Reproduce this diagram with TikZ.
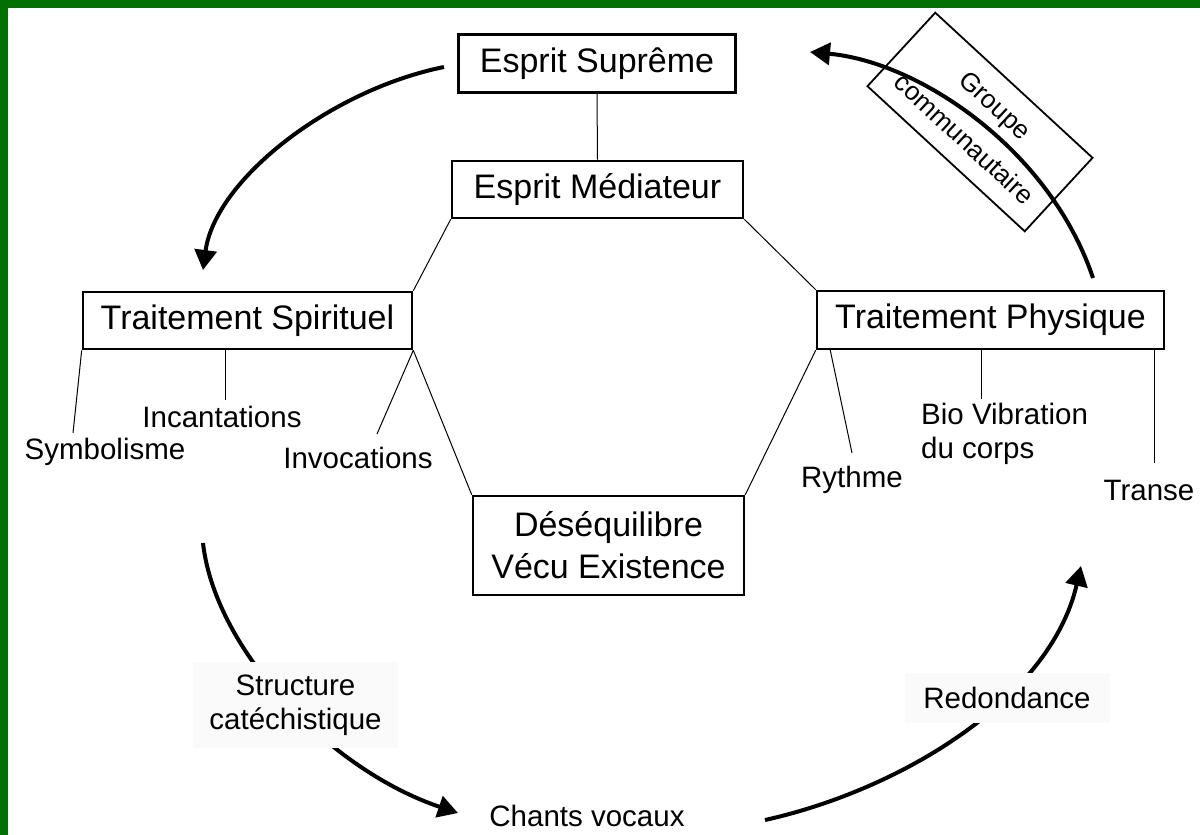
\documentclass[tikz,border=0pt]{standalone}
\usepackage{fontspec}
\setmainfont{Liberation Sans}
\usetikzlibrary{arrows.meta}
\definecolor{bordergreen}{RGB}{0,112,0}
\definecolor{labfill}{RGB}{250,250,250}
\begin{document}
\begin{tikzpicture}[x=1pt,y=-1pt,
  box/.style={draw, line width=2.6pt, inner sep=0pt, align=center, font=\fontsize{34}{42}\selectfont},
  lab/.style={inner sep=0pt, align=center, font=\fontsize{29.5}{34}\selectfont},
  thinline/.style={line width=1pt},
  flow/.style={line width=4pt, -{Triangle[length=20pt,width=22pt]}},
]
\useasboundingbox (0,0) rectangle (1200,835);
\fill[white] (0,0) rectangle (1200,835);
\fill[bordergreen] (0,0) rectangle (1200,8);
\fill[bordergreen] (0,0) rectangle (8,835);

% main boxes
\node[box, minimum width=277pt, minimum height=58pt] (sup) at (597,63.5) {Esprit Suprême};
\node[box, minimum width=291pt, minimum height=57pt] (med) at (597.5,189.5) {Esprit Médiateur};
\node[box, minimum width=329pt, minimum height=57pt] (spi) at (247.5,320.5) {Traitement Spirituel};
\node[box, minimum width=347pt, minimum height=58pt] (phy) at (990.5,320) {Traitement Physique};
\node[box, minimum width=271pt, minimum height=99pt] (des) at (608.5,545.5) {Déséquilibre\\Vécu Existence};

% hexagon connectors
\draw[thinline] (sup.south) -- (med.north);
\draw[thinline] (med.south west) -- (spi.north east);
\draw[thinline] (med.south east) -- (phy.north west);
\draw[thinline] (spi.south east) -- (des.north west);
\draw[thinline] (phy.south west) -- (des.north east);

% sub labels
\node[lab] (sym) at (105,452) {Symbolisme};
\node[lab] (inc) at (222,417) {Incantations};
\node[lab] (inv) at (358,458) {Invocations};
\node[lab] (ryt) at (852,480) {Rythme};
\node[lab, align=left, anchor=west] (bio) at (921,434) {Bio Vibration\\du corps};
\node[lab] (tra) at (1149,490) {Transe};

\coordinate (symend) at (73,433);
\coordinate (incstart) at (225,349);
\coordinate (incend) at (225,400);
\coordinate (invend) at (377,434);
\coordinate (rytstart) at (830,349);
\coordinate (rytend) at (852,453);
\coordinate (biostart) at (981,349);
\coordinate (bioend) at (981,399);
\coordinate (trastart) at (1154,349);
\coordinate (traend) at (1154,463);

\draw[thinline] (spi.south west) -- (symend);
\draw[thinline] (incstart) -- (incend);
\draw[thinline] (spi.south east) -- (invend);
\draw[thinline] (rytstart) -- (rytend);
\draw[thinline] (biostart) -- (bioend);
\draw[thinline] (trastart) -- (traend);

% cycle arrows
\coordinate (a1s) at (444,67);
\coordinate (a1e) at (203,270);
\draw[flow] (a1s) .. controls (330,90) and (215,180) .. (a1e);

\coordinate (a2s) at (203,543);
\coordinate (a2e) at (458,813);
\draw[flow] (a2s) .. controls (215,650) and (330,770) .. (a2e);

\coordinate (a3s) at (765,820);
\coordinate (a3e) at (1081,566);
\draw[flow] (a3s) .. controls (900,790) and (1050,700) .. (a3e);

% labels on arrows
\node[lab, fill=labfill, minimum width=205pt, minimum height=86pt] (str) at (295.5,705) {Structure\\catéchistique};
\node[lab, fill=labfill, minimum width=205pt, minimum height=50pt] (red) at (1007,698) {Redondance};
\node[lab] (cha) at (587,816) {Chants vocaux};

% community group
\node[draw, line width=1.8pt, rotate=-42.7, minimum width=214pt, minimum height=100pt, inner sep=0pt, align=center, font=\fontsize{26}{46}\selectfont] (grp) at (980,122) {Groupe\\communautaire};

\coordinate (a4s) at (1093,278);
\coordinate (a4e) at (810,52);
\draw[flow] (a4s) .. controls (1050,150) and (920,62) .. (a4e);
\end{tikzpicture}
\end{document}
